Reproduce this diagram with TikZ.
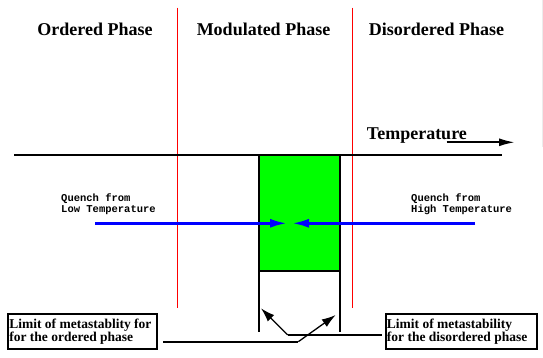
\documentclass[tikz,border=0pt]{standalone}
\usepackage{fontspec}
\setmainfont{Liberation Serif}
\setmonofont{Liberation Mono}
\usetikzlibrary{arrows.meta}
\definecolor{qblue}{RGB}{0,0,255}
\definecolor{pgreen}{RGB}{0,255,0}
\definecolor{pred}{RGB}{255,0,0}
\tikzset{
  phasetitle/.style={font=\fontsize{18}{20}\selectfont\bfseries, anchor=base, inner sep=0pt},
  quenchlabel/.style={font=\fontsize{10.5}{10.6}\selectfont\ttfamily\bfseries, align=left, anchor=north west, inner sep=0pt},
  boxframe/.style={draw=black, line width=2pt, inner sep=0pt},
  boxtext/.style={font=\fontsize{13.5}{12.7}\selectfont\bfseries, align=left, anchor=west, inner sep=0pt},
  redline/.style={draw=pred, line width=1pt},
  blackbar/.style={draw=black, line width=2.2pt},
  quencharrow/.style={draw=qblue, line width=3.2pt, -{Latex[length=18pt,width=9pt]}},
  limitarrow/.style={draw=black, line width=1.3pt, -{Latex[length=14pt,width=9pt]}},
  limitline/.style={draw=black, line width=2pt},
}
\begin{document}
\begin{tikzpicture}[x=1pt,y=-1pt]
\useasboundingbox (0,0) rectangle (543,358);
% faint edge line
\draw[gray!15, line width=1pt] (542,0) -- (542,147);
% phase boundaries
\draw[redline] (177,7.6) -- (177,307.7);
\draw[redline] (352,7.6) -- (352,307.7);
% titles
\node[phasetitle] (ord) at (95,36) {Ordered Phase};
\node[phasetitle] (mod) at (263.5,36) {Modulated Phase};
\node[phasetitle] (dis) at (436.5,35.5) {Disordered Phase};
% temperature axis
\node[phasetitle, anchor=base west] (temp) at (366.7,140) {Temperature};
\coordinate (ta) at (446.7,142.3);
\coordinate (tb) at (515,142.3);
\draw[black, line width=2pt, -{Latex[length=16pt,width=8pt]}] (ta) -- (tb);
% green region
\fill[pgreen] (259,155) rectangle (340,270.7);
\draw[blackbar] (259,155) -- (259,331.7);
\draw[blackbar] (340,155) -- (340,331.7);
\draw[blackbar] (259,270.7) -- (340,270.7);
% main horizontal line
\draw[black, line width=2.8pt] (14,155) -- (501.7,155);
% quench arrows
\node[quenchlabel] (ql) at (61,193.8) {Quench from\\Low Temperature};
\node[quenchlabel] (qh) at (411,193.8) {Quench from\\High Temperature};
\coordinate (qls) at (95,223.3);
\coordinate (qlt) at (288,223.3);
\coordinate (qhs) at (475,223.3);
\coordinate (qht) at (291,223.3);
\draw[quencharrow] (qls) -- (qlt);
\draw[quencharrow] (qhs) -- (qht);
% limit boxes
\node[boxframe, minimum width=148.4pt, minimum height=35.3pt] (lbox) at (82.5,331.7) {};
\node[boxtext] (ltext) at ([xshift=1.8pt]lbox.west) {Limit of metastablity for\\for the ordered phase};
\node[boxframe, minimum width=150.7pt, minimum height=35.3pt] (rbox) at (461.3,331.7) {};
\node[boxtext] (rtext) at ([xshift=1.8pt]rbox.west) {Limit of metastability\\for the disordered phase};
% limit connectors
\coordinate (l1) at (163.3,341.7);
\coordinate (l2) at (298.3,341.7);
\coordinate (lt) at (335.7,315);
\draw[limitline] (l1) -- (l2);
\draw[limitarrow] (l2) -- (lt);
\coordinate (r1) at (381.7,335);
\coordinate (r2) at (287.7,335);
\coordinate (rt) at (261,308.3);
\draw[limitline] (r1) -- (r2);
\draw[limitarrow] (r2) -- (rt);
\end{tikzpicture}
\end{document}
